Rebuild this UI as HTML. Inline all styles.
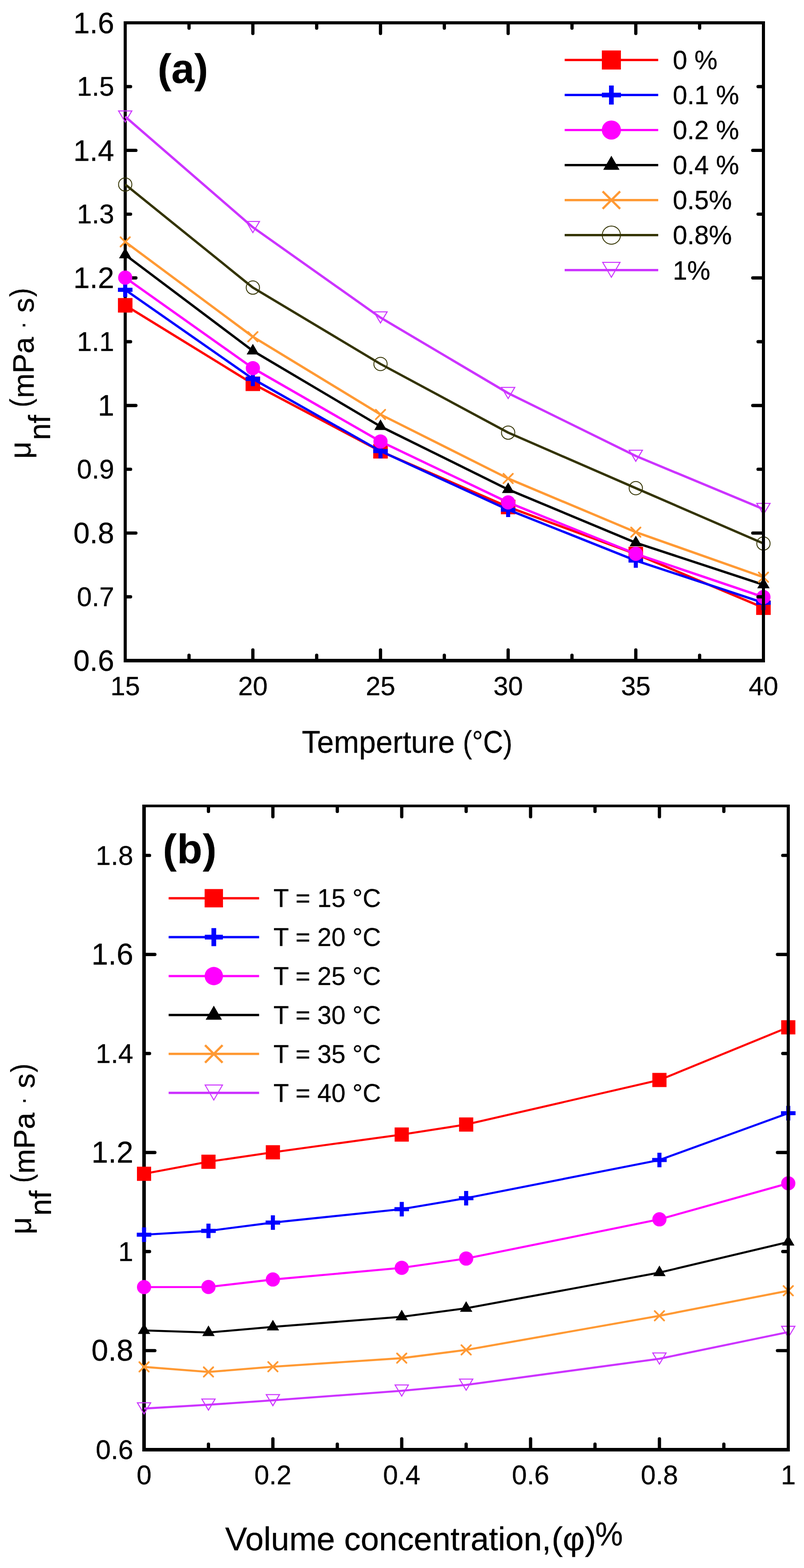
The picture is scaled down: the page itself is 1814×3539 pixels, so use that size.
<!DOCTYPE html>
<html lang="en"><head><meta charset="utf-8"><title>Viscosity of nanofluid</title>
<style>html,body{margin:0;padding:0;background:#fff}body{width:1814px;height:3539px;overflow:hidden}svg{display:block}text{font-family:'Liberation Sans', sans-serif;fill:#000;stroke:#000;stroke-width:.35px;stroke-linejoin:round}.ax{stroke:#000;stroke-width:7;fill:none;stroke-linecap:square;stroke-linejoin:miter}.tk{stroke:#000;stroke-width:7.4;stroke-linecap:round;fill:none}.ln{fill:none;stroke-linejoin:round}</style></head><body>
<svg width="1814" height="3539" viewBox="0 0 1814 3539" role="img" aria-label="Viscosity of nanofluid versus temperature and volume concentration">
<rect width="1814" height="3539" fill="#fff"/>
<g id="a">
<g fill="#000"><rect x="279" y="48" width="7" height="1447"/><rect x="279" y="1487" width="1447" height="8"/></g>
<path class="tk" d="M426.5 1490v-11.1M570.5 1490v-23.1M714.5 1490v-11.1M858.5 1490v-23.1M1002.5 1490v-11.1M1146.5 1490v-23.1M1290.5 1490v-11.1M1434.5 1490v-23.1M1578.5 1490v-11.1M283.5 1347.05h11.1M283.5 1203.1h23.1M283.5 1059.15h11.1M283.5 915.2h23.1M283.5 771.25h11.1M283.5 627.3h23.1M283.5 483.35h11.1M283.5 339.4h23.1M283.5 195.45h11.1"/>
<clipPath id="clip_a"><rect x="281" y="51.5" width="1438" height="1439.5"/></clipPath>
<g><path class="ln" clip-path="url(#clip_a)" stroke="#ff0000" stroke-width="5.3" d="M282.5 689.1L570.5 866.2L858.5 1018.5L1146.5 1144.3L1434.5 1250.4L1722.5 1371.5"/>
<rect x="266.1" y="672.7" width="32.8" height="32.8" fill="#ff0000"/>
<rect x="554.1" y="849.8" width="32.8" height="32.8" fill="#ff0000"/>
<rect x="842.1" y="1002.1" width="32.8" height="32.8" fill="#ff0000"/>
<rect x="1130.1" y="1127.9" width="32.8" height="32.8" fill="#ff0000"/>
<rect x="1418.1" y="1234" width="32.8" height="32.8" fill="#ff0000"/>
<rect x="1706.1" y="1355.1" width="32.8" height="32.8" fill="#ff0000"/>
</g>
<g><path class="ln" clip-path="url(#clip_a)" stroke="#0000ff" stroke-width="5.3" d="M282.5 654.1L570.5 855.1L858.5 1018.2L1146.5 1150.5L1434.5 1265.2L1722.5 1360.5"/>
<path d="M277.9 637.7H287.1V649.5H298.9V658.7H287.1V670.5H277.9V658.7H266.1V649.5H277.9Z" fill="#0000ff"/>
<path d="M565.9 838.7H575.1V850.5H586.9V859.7H575.1V871.5H565.9V859.7H554.1V850.5H565.9Z" fill="#0000ff"/>
<path d="M853.9 1001.8H863.1V1013.6H874.9V1022.8H863.1V1034.6H853.9V1022.8H842.1V1013.6H853.9Z" fill="#0000ff"/>
<path d="M1141.9 1134.1H1151.1V1145.9H1162.9V1155.1H1151.1V1166.9H1141.9V1155.1H1130.1V1145.9H1141.9Z" fill="#0000ff"/>
<path d="M1429.9 1248.8H1439.1V1260.6H1450.9V1269.8H1439.1V1281.6H1429.9V1269.8H1418.1V1260.6H1429.9Z" fill="#0000ff"/>
<path d="M1717.9 1344.1H1727.1V1355.9H1738.9V1365.1H1727.1V1376.9H1717.9V1365.1H1706.1V1355.9H1717.9Z" fill="#0000ff"/>
</g>
<g><path class="ln" clip-path="url(#clip_a)" stroke="#ff00ff" stroke-width="5.3" d="M282.5 626.6L570.5 830.9L858.5 996.4L1146.5 1134L1434.5 1250L1722.5 1347.6"/>
<circle cx="282.5" cy="626.6" r="16" fill="#ff00ff"/>
<circle cx="570.5" cy="830.9" r="16" fill="#ff00ff"/>
<circle cx="858.5" cy="996.4" r="16" fill="#ff00ff"/>
<circle cx="1146.5" cy="1134" r="16" fill="#ff00ff"/>
<circle cx="1434.5" cy="1250" r="16" fill="#ff00ff"/>
<circle cx="1722.5" cy="1347.6" r="16" fill="#ff00ff"/>
</g>
<g><path class="ln" clip-path="url(#clip_a)" stroke="#000000" stroke-width="5.3" d="M282.5 575L570.5 791.9L858.5 962.5L1146.5 1104.8L1434.5 1225L1722.5 1319.8"/>
<path d="M282.5 559L296.5 583L268.5 583Z" fill="#000000"/>
<path d="M570.5 775.9L584.5 799.9L556.5 799.9Z" fill="#000000"/>
<path d="M858.5 946.5L872.5 970.5L844.5 970.5Z" fill="#000000"/>
<path d="M1146.5 1088.8L1160.5 1112.8L1132.5 1112.8Z" fill="#000000"/>
<path d="M1434.5 1209L1448.5 1233L1420.5 1233Z" fill="#000000"/>
<path d="M1722.5 1303.8L1736.5 1327.8L1708.5 1327.8Z" fill="#000000"/>
</g>
<g><path class="ln" clip-path="url(#clip_a)" stroke="#ff9933" stroke-width="5.3" d="M282.5 545.9L570.5 760L858.5 935.5L1146.5 1080L1434.5 1201.1L1722.5 1302.7"/>
<path d="M271.9 535.3L293.1 556.5M271.9 556.5L293.1 535.3" stroke="#ff9933" stroke-width="4" stroke-linecap="round" fill="none"/>
<path d="M559.9 749.4L581.1 770.6M559.9 770.6L581.1 749.4" stroke="#ff9933" stroke-width="4" stroke-linecap="round" fill="none"/>
<path d="M847.9 924.9L869.1 946.1M847.9 946.1L869.1 924.9" stroke="#ff9933" stroke-width="4" stroke-linecap="round" fill="none"/>
<path d="M1135.9 1069.4L1157.1 1090.6M1135.9 1090.6L1157.1 1069.4" stroke="#ff9933" stroke-width="4" stroke-linecap="round" fill="none"/>
<path d="M1423.9 1190.5L1445.1 1211.7M1423.9 1211.7L1445.1 1190.5" stroke="#ff9933" stroke-width="4" stroke-linecap="round" fill="none"/>
<path d="M1711.9 1292.1L1733.1 1313.3M1711.9 1313.3L1733.1 1292.1" stroke="#ff9933" stroke-width="4" stroke-linecap="round" fill="none"/>
</g>
<g><path class="ln" clip-path="url(#clip_a)" stroke="#333300" stroke-width="5.3" d="M282.5 416.4L570.5 649.1L858.5 821.5L1146.5 976.4L1434.5 1101.8L1722.5 1226.7"/>
<circle cx="282.5" cy="416.4" r="15" fill="none" stroke="#333300" stroke-width="2"/>
<circle cx="570.5" cy="649.1" r="15" fill="none" stroke="#333300" stroke-width="2"/>
<circle cx="858.5" cy="821.5" r="15" fill="none" stroke="#333300" stroke-width="2"/>
<circle cx="1146.5" cy="976.4" r="15" fill="none" stroke="#333300" stroke-width="2"/>
<circle cx="1434.5" cy="1101.8" r="15" fill="none" stroke="#333300" stroke-width="2"/>
<circle cx="1722.5" cy="1226.7" r="15" fill="none" stroke="#333300" stroke-width="2"/>
</g>
<g><path class="ln" clip-path="url(#clip_a)" stroke="#cc33ff" stroke-width="5.3" d="M282.5 263.3L570.5 512.95L858.5 716.8L1146.5 887.4L1434.5 1029.1L1722.5 1149.2"/>
<path d="M267.5 250.3L297.5 250.3L282.5 275.4Z" fill="none" stroke="#cc33ff" stroke-width="2.3" stroke-linejoin="miter"/>
<path d="M555.5 499.95L585.5 499.95L570.5 525.05Z" fill="none" stroke="#cc33ff" stroke-width="2.3" stroke-linejoin="miter"/>
<path d="M843.5 703.8L873.5 703.8L858.5 728.9Z" fill="none" stroke="#cc33ff" stroke-width="2.3" stroke-linejoin="miter"/>
<path d="M1131.5 874.4L1161.5 874.4L1146.5 899.5Z" fill="none" stroke="#cc33ff" stroke-width="2.3" stroke-linejoin="miter"/>
<path d="M1419.5 1016.1L1449.5 1016.1L1434.5 1041.2Z" fill="none" stroke="#cc33ff" stroke-width="2.3" stroke-linejoin="miter"/>
<path d="M1707.5 1136.2L1737.5 1136.2L1722.5 1161.3Z" fill="none" stroke="#cc33ff" stroke-width="2.3" stroke-linejoin="miter"/>
</g>
<g fill="#000"><rect x="279" y="48" width="1447" height="7"/><rect x="1719" y="48" width="7" height="1446"/></g>
<path class="tk" d="M426.5 52.5v11.1M570.5 52.5v23.1M714.5 52.5v11.1M858.5 52.5v23.1M1002.5 52.5v11.1M1146.5 52.5v23.1M1290.5 52.5v11.1M1434.5 52.5v23.1M1578.5 52.5v11.1M1721.5 1347.05h-11.1M1721.5 1203.1h-23.1M1721.5 1059.15h-11.1M1721.5 915.2h-23.1M1721.5 771.25h-11.1M1721.5 627.3h-23.1M1721.5 483.35h-11.1M1721.5 339.4h-23.1M1721.5 195.45h-11.1"/>
<text x="282.5" y="1569" font-size="60" text-anchor="middle">15</text>
<text x="570.5" y="1569" font-size="60" text-anchor="middle">20</text>
<text x="858.5" y="1569" font-size="60" text-anchor="middle">25</text>
<text x="1146.5" y="1569" font-size="60" text-anchor="middle">30</text>
<text x="1434.5" y="1569" font-size="60" text-anchor="middle">35</text>
<text x="1722.5" y="1569" font-size="60" text-anchor="middle">40</text>
<text x="257.7" y="1368.05" font-size="60.5" text-anchor="end">0.7</text>
<text x="257.7" y="1080.15" font-size="60.5" text-anchor="end">0.9</text>
<text x="257.7" y="792.25" font-size="60.5" text-anchor="end">1.1</text>
<text x="257.7" y="504.35" font-size="60.5" text-anchor="end">1.3</text>
<text x="257.7" y="216.45" font-size="60.5" text-anchor="end">1.5</text>
<text transform="translate(257.7 1514.1) scale(0.985 1)" font-size="67.4" text-anchor="end">0.6</text>
<text transform="translate(257.7 1226.2) scale(0.985 1)" font-size="67.4" text-anchor="end">0.8</text>
<text transform="translate(257.7 938.3) scale(0.985 1)" font-size="67.4" text-anchor="end">1</text>
<text transform="translate(257.7 650.4) scale(0.985 1)" font-size="67.4" text-anchor="end">1.2</text>
<text transform="translate(257.7 362.5) scale(0.985 1)" font-size="67.4" text-anchor="end">1.4</text>
<text transform="translate(257.7 74.6) scale(0.985 1)" font-size="67.4" text-anchor="end">1.6</text>
<g><path class="ln" stroke="#ff0000" stroke-width="5.2" d="M1274 135.4H1485.1"/>
<rect x="1357.9" y="113.9" width="43" height="43" fill="#ff0000"/>
<text transform="translate(1518 156.2) scale(0.975 1)" font-size="60" text-anchor="start">0 %</text>
</g>
<g><path class="ln" stroke="#0000ff" stroke-width="5.2" d="M1274 214.45H1485.1"/>
<path d="M1374.1 192.95H1384.7V209.15H1400.9V219.75H1384.7V235.95H1374.1V219.75H1357.9V209.15H1374.1Z" fill="#0000ff"/>
<text transform="translate(1518 235.25) scale(0.975 1)" font-size="60" text-anchor="start">0.1 %</text>
</g>
<g><path class="ln" stroke="#ff00ff" stroke-width="5.2" d="M1274 293.5H1485.1"/>
<circle cx="1379.4" cy="293.5" r="21.6" fill="#ff00ff"/>
<text transform="translate(1518 314.3) scale(0.975 1)" font-size="60" text-anchor="start">0.2 %</text>
</g>
<g><path class="ln" stroke="#000000" stroke-width="5.2" d="M1274 372.55H1485.1"/>
<path d="M1379.4 351.55L1397.8 383.25L1361 383.25Z" fill="#000000"/>
<text transform="translate(1518 393.35) scale(0.975 1)" font-size="60" text-anchor="start">0.4 %</text>
</g>
<g><path class="ln" stroke="#ff9933" stroke-width="5.2" d="M1274 451.6H1485.1"/>
<path d="M1359.7 431.9L1399.1 471.3M1359.7 471.3L1399.1 431.9" stroke="#ff9933" stroke-width="5" fill="none"/>
<text transform="translate(1518 472.4) scale(0.975 1)" font-size="60" text-anchor="start">0.5%</text>
</g>
<g><path class="ln" stroke="#333300" stroke-width="5.2" d="M1274 530.65H1485.1"/>
<circle cx="1379.4" cy="530.65" r="20.5" fill="none" stroke="#333300" stroke-width="2"/>
<text transform="translate(1518 551.45) scale(0.975 1)" font-size="60" text-anchor="start">0.8%</text>
</g>
<g><path class="ln" stroke="#cc33ff" stroke-width="5.2" d="M1274 609.7H1485.1"/>
<path d="M1359.8 592.1L1399 592.1L1379.4 625.9Z" fill="none" stroke="#cc33ff" stroke-width="2.2" stroke-linejoin="miter"/>
<text transform="translate(1518 630.5) scale(0.975 1)" font-size="60" text-anchor="start">1%</text>
</g>
<text x="355.7" y="187" font-size="93" text-anchor="start" font-weight="bold">(a)</text>
<text transform="translate(681.1 1699.2) scale(0.975 1)" font-size="70" text-anchor="start">Temperture</text>
<text transform="translate(1044.3 1699.2) scale(0.892 1)" font-size="70" text-anchor="start">(°C)</text>
<text transform="translate(68.5 1035.5) rotate(-90)" font-size="68">μ</text>
<text transform="translate(113.1 993.2) rotate(-90)" font-size="68">nf</text>
<text transform="translate(69.4 919.2) rotate(-90) scale(0.88 1)" font-size="67">(</text>
<text transform="translate(76.1 898.5) rotate(-90)" font-size="67">mPa</text>
<text transform="translate(67.8 742.8) rotate(-90)" font-size="52">·</text>
<text transform="translate(76.1 705.8) rotate(-90)" font-size="67">s</text>
<text transform="translate(69.4 669.8) rotate(-90) scale(0.88 1)" font-size="67">)</text>
</g>
<g id="b">
<g fill="#000"><rect x="321" y="1816" width="8" height="1460"/><rect x="321" y="3268" width="1461" height="8"/></g>
<path class="tk" d="M470.35 3270.9v-11.4M615.7 3270.9v-23.4M761.05 3270.9v-11.4M906.4 3270.9v-23.4M1051.75 3270.9v-11.4M1197.1 3270.9v-23.4M1342.45 3270.9v-11.4M1487.8 3270.9v-23.4M1633.15 3270.9v-11.4M326 3048.36h23.4M326 2824.82h11.4M326 2601.28h23.4M326 2377.74h11.4M326 2154.2h23.4M326 1930.66h11.4"/>
<clipPath id="clip_b"><rect x="323.5" y="1819" width="1451.5" height="1452.9"/></clipPath>
<g><path class="ln" clip-path="url(#clip_b)" stroke="#ff0000" stroke-width="4.6" d="M325 2649.26L470.35 2622.09L615.7 2600.74L906.4 2560.67L1051.75 2538.08L1487.8 2437.53L1778.5 2318.65"/>
<rect x="309" y="2633.26" width="32" height="32" fill="#ff0000"/>
<rect x="454.35" y="2606.09" width="32" height="32" fill="#ff0000"/>
<rect x="599.7" y="2584.74" width="32" height="32" fill="#ff0000"/>
<rect x="890.4" y="2544.67" width="32" height="32" fill="#ff0000"/>
<rect x="1035.75" y="2522.08" width="32" height="32" fill="#ff0000"/>
<rect x="1471.8" y="2421.53" width="32" height="32" fill="#ff0000"/>
<rect x="1762.5" y="2302.65" width="32" height="32" fill="#ff0000"/>
</g>
<g><path class="ln" clip-path="url(#clip_b)" stroke="#0000ff" stroke-width="4.6" d="M325 2786.77L470.35 2778.16L615.7 2759.37L906.4 2729.08L1051.75 2704.31L1487.8 2618.21L1778.5 2512.49"/>
<path d="M320.4 2770.37H329.6V2782.17H341.4V2791.37H329.6V2803.17H320.4V2791.37H308.6V2782.17H320.4Z" fill="#0000ff"/>
<path d="M465.75 2761.76H474.95V2773.56H486.75V2782.76H474.95V2794.56H465.75V2782.76H453.95V2773.56H465.75Z" fill="#0000ff"/>
<path d="M611.1 2742.97H620.3V2754.77H632.1V2763.97H620.3V2775.77H611.1V2763.97H599.3V2754.77H611.1Z" fill="#0000ff"/>
<path d="M901.8 2712.68H911V2724.48H922.8V2733.68H911V2745.48H901.8V2733.68H890V2724.48H901.8Z" fill="#0000ff"/>
<path d="M1047.15 2687.91H1056.35V2699.71H1068.15V2708.91H1056.35V2720.71H1047.15V2708.91H1035.35V2699.71H1047.15Z" fill="#0000ff"/>
<path d="M1483.2 2601.81H1492.4V2613.61H1504.2V2622.81H1492.4V2634.61H1483.2V2622.81H1471.4V2613.61H1483.2Z" fill="#0000ff"/>
<path d="M1773.9 2496.09H1783.1V2507.89H1794.9V2517.09H1783.1V2528.89H1773.9V2517.09H1762.1V2507.89H1773.9Z" fill="#0000ff"/>
</g>
<g><path class="ln" clip-path="url(#clip_b)" stroke="#ff00ff" stroke-width="4.6" d="M325 2905.03L470.35 2904.79L615.7 2887.87L906.4 2861.55L1051.75 2840.58L1487.8 2752.07L1778.5 2670.77"/>
<circle cx="325" cy="2905.03" r="16" fill="#ff00ff"/>
<circle cx="470.35" cy="2904.79" r="16" fill="#ff00ff"/>
<circle cx="615.7" cy="2887.87" r="16" fill="#ff00ff"/>
<circle cx="906.4" cy="2861.55" r="16" fill="#ff00ff"/>
<circle cx="1051.75" cy="2840.58" r="16" fill="#ff00ff"/>
<circle cx="1487.8" cy="2752.07" r="16" fill="#ff00ff"/>
<circle cx="1778.5" cy="2670.77" r="16" fill="#ff00ff"/>
</g>
<g><path class="ln" clip-path="url(#clip_b)" stroke="#000000" stroke-width="4.6" d="M325 3002.7L470.35 3007.52L615.7 2994.71L906.4 2972.03L1051.75 2952.78L1487.8 2872.34L1778.5 2803.23"/>
<path d="M325 2986.7L339 3010.7L311 3010.7Z" fill="#000000"/>
<path d="M470.35 2991.52L484.35 3015.52L456.35 3015.52Z" fill="#000000"/>
<path d="M615.7 2978.71L629.7 3002.71L601.7 3002.71Z" fill="#000000"/>
<path d="M906.4 2956.03L920.4 2980.03L892.4 2980.03Z" fill="#000000"/>
<path d="M1051.75 2936.78L1065.75 2960.78L1037.75 2960.78Z" fill="#000000"/>
<path d="M1487.8 2856.34L1501.8 2880.34L1473.8 2880.34Z" fill="#000000"/>
<path d="M1778.5 2787.23L1792.5 2811.23L1764.5 2811.23Z" fill="#000000"/>
</g>
<g><path class="ln" clip-path="url(#clip_b)" stroke="#ff9933" stroke-width="4.6" d="M325 3085.09L470.35 3096.58L615.7 3084.78L906.4 3065.36L1051.75 3046.81L1487.8 2969.71L1778.5 2913.26"/>
<path d="M314.4 3074.49L335.6 3095.69M314.4 3095.69L335.6 3074.49" stroke="#ff9933" stroke-width="4" stroke-linecap="round" fill="none"/>
<path d="M459.75 3085.98L480.95 3107.18M459.75 3107.18L480.95 3085.98" stroke="#ff9933" stroke-width="4" stroke-linecap="round" fill="none"/>
<path d="M605.1 3074.18L626.3 3095.38M605.1 3095.38L626.3 3074.18" stroke="#ff9933" stroke-width="4" stroke-linecap="round" fill="none"/>
<path d="M895.8 3054.76L917 3075.96M895.8 3075.96L917 3054.76" stroke="#ff9933" stroke-width="4" stroke-linecap="round" fill="none"/>
<path d="M1041.15 3036.21L1062.35 3057.41M1041.15 3057.41L1062.35 3036.21" stroke="#ff9933" stroke-width="4" stroke-linecap="round" fill="none"/>
<path d="M1477.2 2959.11L1498.4 2980.31M1477.2 2980.31L1498.4 2959.11" stroke="#ff9933" stroke-width="4" stroke-linecap="round" fill="none"/>
<path d="M1767.9 2902.66L1789.1 2923.86M1767.9 2923.86L1789.1 2902.66" stroke="#ff9933" stroke-width="4" stroke-linecap="round" fill="none"/>
</g>
<g><path class="ln" clip-path="url(#clip_b)" stroke="#cc33ff" stroke-width="4.6" d="M325 3179.11L470.35 3170.57L615.7 3160.56L906.4 3138.97L1051.75 3125.69L1487.8 3066.68L1778.5 3006.51"/>
<path d="M310 3166.11L340 3166.11L325 3191.21Z" fill="none" stroke="#cc33ff" stroke-width="2.3" stroke-linejoin="miter"/>
<path d="M455.35 3157.57L485.35 3157.57L470.35 3182.67Z" fill="none" stroke="#cc33ff" stroke-width="2.3" stroke-linejoin="miter"/>
<path d="M600.7 3147.56L630.7 3147.56L615.7 3172.66Z" fill="none" stroke="#cc33ff" stroke-width="2.3" stroke-linejoin="miter"/>
<path d="M891.4 3125.97L921.4 3125.97L906.4 3151.07Z" fill="none" stroke="#cc33ff" stroke-width="2.3" stroke-linejoin="miter"/>
<path d="M1036.75 3112.69L1066.75 3112.69L1051.75 3137.79Z" fill="none" stroke="#cc33ff" stroke-width="2.3" stroke-linejoin="miter"/>
<path d="M1472.8 3053.68L1502.8 3053.68L1487.8 3078.78Z" fill="none" stroke="#cc33ff" stroke-width="2.3" stroke-linejoin="miter"/>
<path d="M1763.5 2993.51L1793.5 2993.51L1778.5 3018.61Z" fill="none" stroke="#cc33ff" stroke-width="2.3" stroke-linejoin="miter"/>
</g>
<g fill="#000"><rect x="321" y="1816" width="1461" height="6"/><rect x="1775" y="1816" width="7" height="1460"/></g>
<path class="tk" d="M470.35 1820v11.4M615.7 1820v23.4M761.05 1820v11.4M906.4 1820v23.4M1051.75 1820v11.4M1197.1 1820v23.4M1342.45 1820v11.4M1487.8 1820v23.4M1633.15 1820v11.4M1777.5 3048.36h-23.4M1777.5 2824.82h-11.4M1777.5 2601.28h-23.4M1777.5 2377.74h-11.4M1777.5 2154.2h-23.4M1777.5 1930.66h-11.4"/>
<text x="325" y="3350" font-size="60.5" text-anchor="middle">0</text>
<text x="615.7" y="3350" font-size="60.5" text-anchor="middle">0.2</text>
<text x="906.4" y="3350" font-size="60.5" text-anchor="middle">0.4</text>
<text x="1197.1" y="3350" font-size="60.5" text-anchor="middle">0.6</text>
<text x="1487.8" y="3350" font-size="60.5" text-anchor="middle">0.8</text>
<text x="1778.5" y="3350" font-size="60.5" text-anchor="middle">1</text>
<text x="300.8" y="3293.4" font-size="61" text-anchor="end">0.6</text>
<text x="300.8" y="2846.32" font-size="61" text-anchor="end">1</text>
<text x="300.8" y="2399.24" font-size="61" text-anchor="end">1.4</text>
<text x="300.8" y="1952.16" font-size="61" text-anchor="end">1.8</text>
<text x="300.8" y="3071.06" font-size="68" text-anchor="end">0.8</text>
<text x="300.8" y="2623.98" font-size="68" text-anchor="end">1.2</text>
<text x="300.8" y="2176.9" font-size="68" text-anchor="end">1.6</text>
<g><path class="ln" stroke="#ff0000" stroke-width="5.2" d="M380.5 2027.3H584.6"/>
<rect x="461.7" y="2006.6" width="41.4" height="41.4" fill="#ff0000"/>
<text transform="translate(617 2047.3) scale(0.985 1)" font-size="58" text-anchor="start">T = 15 °C</text>
</g>
<g><path class="ln" stroke="#0000ff" stroke-width="5.2" d="M380.5 2115.15H584.6"/>
<path d="M477.1 2094.75H487.7V2109.85H502.8V2120.45H487.7V2135.55H477.1V2120.45H462V2109.85H477.1Z" fill="#0000ff"/>
<text transform="translate(617 2135.15) scale(0.985 1)" font-size="58" text-anchor="start">T = 20 °C</text>
</g>
<g><path class="ln" stroke="#ff00ff" stroke-width="5.2" d="M380.5 2203H584.6"/>
<circle cx="482.4" cy="2203" r="20.7" fill="#ff00ff"/>
<text transform="translate(617 2223) scale(0.985 1)" font-size="58" text-anchor="start">T = 25 °C</text>
</g>
<g><path class="ln" stroke="#000000" stroke-width="5.2" d="M380.5 2290.85H584.6"/>
<path d="M482.4 2269.85L500.8 2301.55L464 2301.55Z" fill="#000000"/>
<text transform="translate(617 2310.85) scale(0.985 1)" font-size="58" text-anchor="start">T = 30 °C</text>
</g>
<g><path class="ln" stroke="#ff9933" stroke-width="5.2" d="M380.5 2378.7H584.6"/>
<path d="M462.7 2359L502.1 2398.4M462.7 2398.4L502.1 2359" stroke="#ff9933" stroke-width="5" fill="none"/>
<text transform="translate(617 2398.7) scale(0.985 1)" font-size="58" text-anchor="start">T = 35 °C</text>
</g>
<g><path class="ln" stroke="#cc33ff" stroke-width="5.2" d="M380.5 2466.55H584.6"/>
<path d="M462.8 2448.95L502 2448.95L482.4 2482.75Z" fill="none" stroke="#cc33ff" stroke-width="2.2" stroke-linejoin="miter"/>
<text transform="translate(617 2486.55) scale(0.985 1)" font-size="58" text-anchor="start">T = 40 °C</text>
</g>
<text x="367.5" y="1947.5" font-size="93" text-anchor="start" font-weight="bold" letter-spacing="1.1">(b)</text>
<text transform="translate(508 3499) scale(1.0115 1)" font-size="73.5" text-anchor="start">Volume concentration,</text>
<text transform="translate(1244.4 3499) scale(1.04 1)" font-size="73.5" text-anchor="start">(φ)</text>
<text transform="translate(1342.9 3487.5) scale(0.955 1)" font-size="73.5" text-anchor="start">%</text>
<text transform="translate(70.1 2786) rotate(-90)" font-size="68">μ</text>
<text transform="translate(114.7 2743.7) rotate(-90)" font-size="68">nf</text>
<text transform="translate(71 2669.7) rotate(-90) scale(0.88 1)" font-size="67">(</text>
<text transform="translate(77.7 2649) rotate(-90)" font-size="67">mPa</text>
<text transform="translate(69.4 2493.3) rotate(-90)" font-size="52">·</text>
<text transform="translate(77.7 2456.3) rotate(-90)" font-size="67">s</text>
<text transform="translate(71 2420.3) rotate(-90) scale(0.88 1)" font-size="67">)</text>
</g>
</svg></body></html>
